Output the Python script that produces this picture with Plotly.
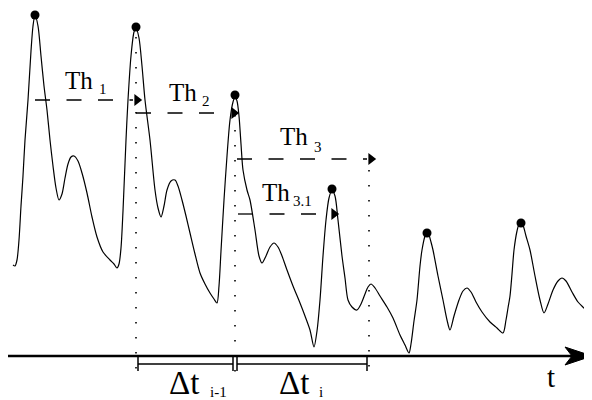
import plotly.graph_objects as go

# ---------------- data (signal amplitude above the time axis) ----------------
t_values = [13, 15, 17, 19, 21, 23, 25, 28, 31, 33, 35, 38, 41, 44, 47, 50, 53, 56, 59,
            62, 65, 68, 71, 74, 78, 82, 87, 92, 97, 103, 110, 114, 117, 119, 121, 123, 126,
            128, 131, 134, 136, 139, 142, 145, 150, 155, 158, 161, 164, 167, 171, 175, 178,
            182, 186, 190, 195, 200, 205, 210, 214, 217, 219, 221, 224, 227, 230, 233, 235,
            237, 239, 241, 243, 247, 250, 255, 259, 262, 266, 270, 274, 278, 282, 287, 293,
            300, 305, 310, 314, 317, 320, 323, 326, 329, 332, 335, 338, 342, 345, 348, 352,
            357, 361, 365, 368, 371, 375, 380, 387, 393, 400, 405, 409, 411, 414, 417, 420,
            422, 425, 427, 429, 431, 433, 438, 443, 447, 450, 454, 459, 463, 467, 471, 476,
            482, 490, 497, 503, 506, 508, 510, 512, 514, 517, 519, 521, 523, 526, 530, 535,
            540, 544, 548, 553, 558, 562, 566, 572, 578, 584, 588, 592]
signal_values = [91, 90, 96, 116, 150, 180, 216, 256, 305, 330, 341, 330, 300, 270, 246, 216,
                 190, 168, 156, 162, 178, 192, 199, 200, 195, 183, 163, 139, 119, 104, 96, 92,
                 88, 92, 108, 145, 216, 256, 300, 324, 328, 318, 290, 256, 216, 166, 148, 139,
                 150, 166, 175, 176, 170, 156, 140, 123, 102, 83, 72, 63, 57, 53, 70, 105, 156,
                 200, 236, 254, 259, 255, 240, 212, 186, 166, 156, 126, 100, 93, 100, 109, 113,
                 109, 100, 86, 70, 53, 40, 26, 9, 25, 56, 100, 136, 158, 166, 160, 136, 100, 78,
                 56, 49, 46, 52, 62, 69, 72, 68, 60, 49, 38, 21, 11, 3, 12, 35, 56, 90, 106, 120,
                 124, 121, 114, 106, 80, 56, 36, 26, 40, 56, 65, 68, 64, 54, 44, 34, 28, 23, 36,
                 48, 60, 82, 106, 125, 132, 134, 131, 120, 106, 80, 56, 43, 52, 66, 75, 78, 75,
                 64, 54, 48, 44, 41]

peak_t = [35, 136, 235, 332, 427, 521]
peak_signal = [341, 329, 261, 167, 123, 133]

threshold_subs = ["1", "2", "3", "3.1"]
threshold_level = [256, 243, 197, 142]
threshold_start = [35, 136, 237, 238]
threshold_end = [143, 240, 377, 340]

marker_times = [136, 235, 369]
marker_top = [319, 241, 186]
marker_bottom = [-16, -24, -13]

interval_subs = ["i-1", "i"]
interval_start = [138, 237]
interval_end = [233, 367]

axis_label = "t"

# ---------------- layout constants ----------------
SERIF = "Liberation Serif, Times New Roman, serif"
TH_POS = [(63, 276), (167, 264), (278, 220), (260, 164)]
TH_SUB_POS = [(97, 267), (200, 255), (312, 209), (291, 155)]
DT_POS = [(167, -27), (277, -27)]
DT_SUB_POS = [(208, -36), (317, -36)]
AXIS_END = 592
# the page body keeps an 8px margin, so the figure is 8px smaller and the ranges start 8px in
X_RANGE = [8, 592]
Y_RANGE = [-44, 348]

fig = go.Figure()

# dotted vertical markers
for tx, top, bot in zip(marker_times, marker_top, marker_bottom):
    fig.add_trace(go.Scatter(x=[tx, tx], y=[top, bot], mode="lines",
                             line=dict(color="black", width=1.6, dash="1.6px,13.4px"),
                             hoverinfo="skip", showlegend=False))

# signal curve
fig.add_trace(go.Scatter(x=t_values, y=signal_values, mode="lines",
                         line=dict(color="black", width=1.2, shape="spline", smoothing=0.8),
                         hoverinfo="skip", showlegend=False))

# peaks
fig.add_trace(go.Scatter(x=peak_t, y=peak_signal, mode="markers",
                         marker=dict(color="black", size=9),
                         hoverinfo="skip", showlegend=False))

# threshold arrows
ARROW_R = 5.2
for lvl, s, e in zip(threshold_level, threshold_start, threshold_end):
    base = e - 10
    fig.add_trace(go.Scatter(x=[s, base], y=[lvl, lvl], mode="lines",
                             line=dict(color="black", width=1.3, dash="15px,16.5px"),
                             hoverinfo="skip", showlegend=False))
    fig.add_trace(go.Scatter(x=[e - 1.155 * ARROW_R], y=[lvl], mode="markers",
                             marker=dict(symbol="triangle-right", color="black",
                                         size=2 * ARROW_R, line=dict(width=0)),
                             hoverinfo="skip", showlegend=False))

# interval dimension lines
for s, e in zip(interval_start, interval_end):
    fig.add_trace(go.Scatter(x=[s, e], y=[-8, -8], mode="lines",
                             line=dict(color="black", width=1.5),
                             hoverinfo="skip", showlegend=False))
    for xx in (s, e):
        fig.add_trace(go.Scatter(x=[xx, xx], y=[-1, -15], mode="lines",
                                 line=dict(color="black", width=1.5),
                                 hoverinfo="skip", showlegend=False))

shapes = [
    dict(type="line", xref="x", yref="y", x0=0, x1=AXIS_END - 20, y0=0, y1=0,
         line=dict(color="black", width=2.5)),
    dict(type="path", xref="x", yref="y",
         path=f"M {AXIS_END-27},9 L {AXIS_END},0 L {AXIS_END-27},-9 L {AXIS_END-20},0 Z",
         fillcolor="black", line=dict(color="black", width=1)),
]

annotations = []
for (x, y), sub, (sx, sy) in zip(TH_POS, threshold_subs, TH_SUB_POS):
    annotations.append(dict(x=x, y=y, xref="x", yref="y", text="Th", showarrow=False,
                            xanchor="left", yanchor="middle",
                            font=dict(family=SERIF, size=25, color="black")))
    annotations.append(dict(x=sx, y=sy, xref="x", yref="y", text=sub, showarrow=False,
                            xanchor="left", yanchor="middle",
                            font=dict(family=SERIF, size=15, color="black")))
for (x, y), sub, (sx, sy) in zip(DT_POS, interval_subs, DT_SUB_POS):
    annotations.append(dict(x=x, y=y, xref="x", yref="y", text="Δt", showarrow=False,
                            xanchor="left", yanchor="middle",
                            font=dict(family=SERIF, size=33, color="black")))
    annotations.append(dict(x=sx, y=sy, xref="x", yref="y", text=sub, showarrow=False,
                            xanchor="left", yanchor="middle",
                            font=dict(family=SERIF, size=15, color="black")))
annotations.append(dict(x=551, y=-21, xref="x", yref="y", text=axis_label, showarrow=False,
                        xanchor="center", yanchor="middle",
                        font=dict(family=SERIF, size=29, color="black")))

fig.update_layout(
    width=584, height=392,
    margin=dict(l=0, r=0, t=0, b=0, pad=0),
    paper_bgcolor="white", plot_bgcolor="white",
    xaxis=dict(range=X_RANGE, visible=False, fixedrange=True),
    yaxis=dict(range=Y_RANGE, visible=False, fixedrange=True),
    shapes=shapes, annotations=annotations, showlegend=False,
)

fig.write_html("out.html")
